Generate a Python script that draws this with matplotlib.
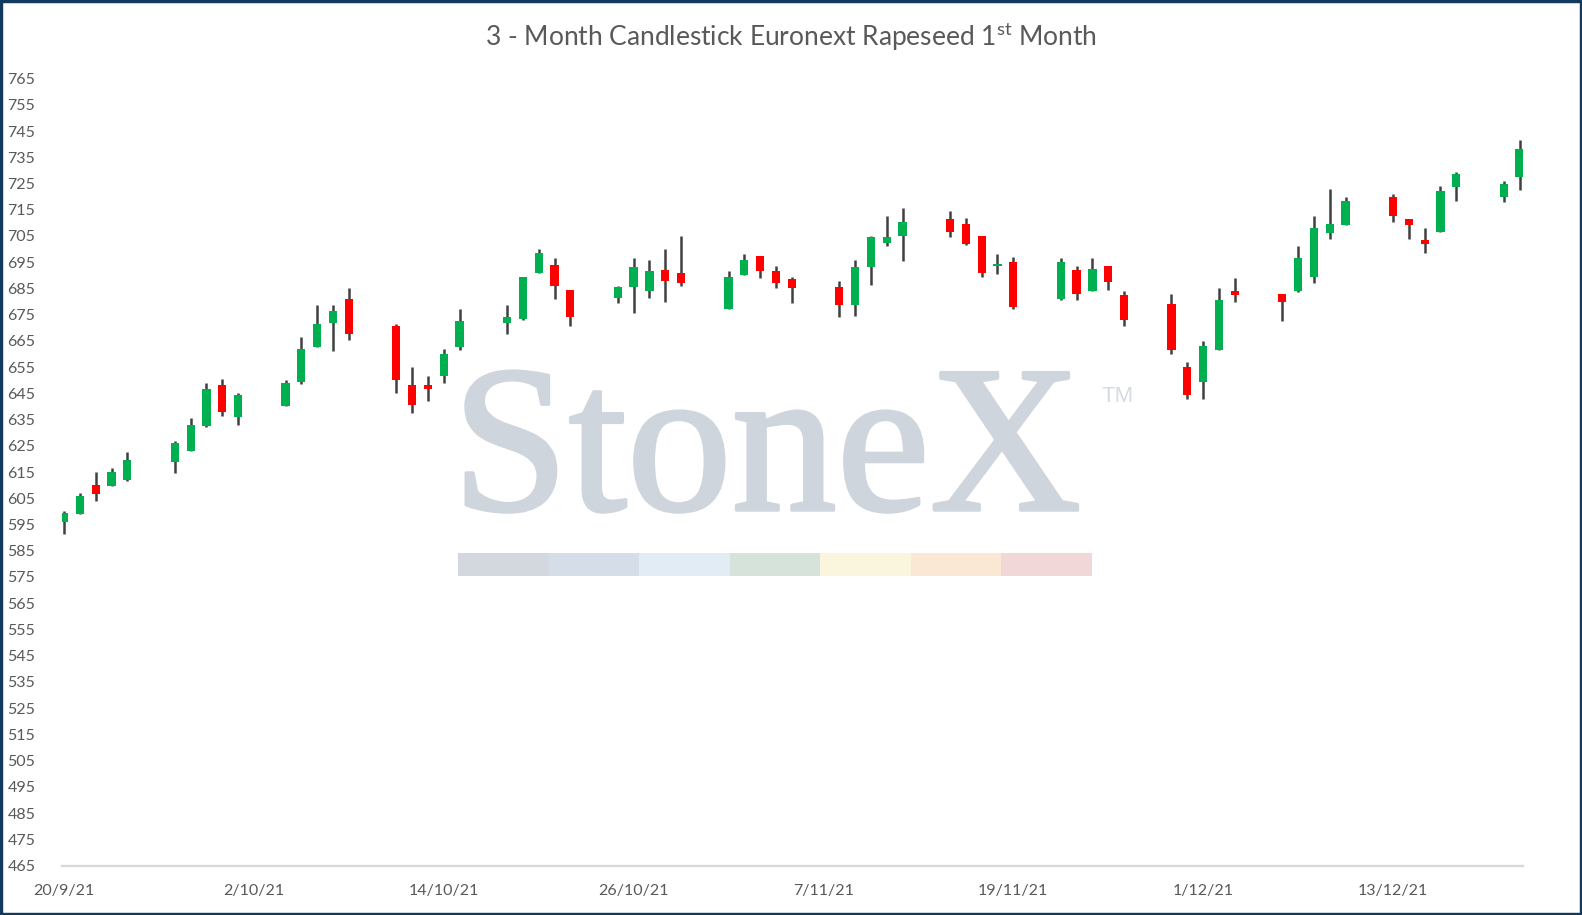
import numpy as np
import pandas as pd
import matplotlib
matplotlib.use("Agg")
import matplotlib.pyplot as plt
import matplotlib.dates as mdates
import matplotlib.patheffects as pe
from matplotlib.patches import Rectangle

plt.rcParams['font.family'] = ['Lato', 'DejaVu Sans']
plt.rcParams['mathtext.fontset'] = 'custom'
plt.rcParams['mathtext.rm'] = 'Lato'

###############################################################################
# daily OHLC, Euronext rapeseed front month, 20/9/21 - 21/12/21 (weekdays)
dates = pd.bdate_range('2021-09-20', '2021-12-21')
opens = [596, 599, 610, 609.5, 612, 619, 623, 632.5, 648, 636,
         640, 649.5, 662.5, 672, 681, 670.5, 648, 648, 651.5, 662.5,
         672, 673.5, 691, 694, 684.5, 681.5, 685.5, 684, 692, 691,
         677, 690, 697.5, 691.5, 688.5, 685.5, 678.5, 693, 702.5, 705,
         711.5, 709.5, 705, 693.5, 695, 681, 692, 684, 693.5, 682.5,
         679, 655, 649.5, 661.5, 684, 683, 684, 689.5, 706, 709,
         720, 711.5, 703.5, 706.5, 723.5, 720, 727.5]
highs = [600, 607, 615, 616.5, 622.5, 627, 635.5, 649, 650.5, 645,
         650, 666.5, 678.5, 678.5, 685, 671.5, 655, 651.5, 662, 677,
         678.5, 689.5, 700, 696.5, 684.5, 686, 696.5, 696, 700, 705,
         691.5, 698, 697.5, 693.5, 689.5, 688, 696, 705, 712.5, 715.5,
         714.5, 712, 705, 698, 697, 696.5, 693.5, 696.5, 693.5, 684,
         683, 657, 665, 685, 689, 683, 701, 712.5, 723, 720,
         721, 711.5, 708, 724, 729.5, 726, 741.5]
lows = [591.5, 599, 604, 609.5, 611.5, 614.5, 623, 632, 636.5, 633,
        640, 648.5, 662.5, 661, 665.5, 645, 637.5, 642, 649, 661.5,
        667.5, 673, 691, 681, 670.5, 679.5, 675.5, 681.5, 680, 686,
        677, 690, 689, 685, 679.5, 674, 674.5, 686.5, 701, 695.5,
        704.5, 701.5, 689.5, 690.5, 677, 680.5, 680.5, 684, 684.5, 670.5,
        660, 643, 643, 661.5, 680, 672.5, 683.5, 687, 704, 709,
        710.5, 704, 698.5, 706.5, 718.5, 718, 722.5]
closes = [599.5, 606, 606.5, 615, 619.5, 626, 633, 646.5, 638, 644.5,
          649, 662, 671.5, 676.5, 667.5, 650, 640.5, 646.5, 660, 672.5,
          674, 689.5, 698.5, 686, 674, 685.5, 693, 691.5, 688, 687,
          689.5, 696, 691.5, 687, 685, 678.5, 693, 704.5, 704.5, 710.5,
          706.5, 702, 691, 694.5, 678, 695, 683, 692.5, 687.5, 673,
          661.5, 644.5, 663, 680.5, 682.5, 680, 696.5, 708, 709.5, 718.5,
          712.5, 709, 702, 722, 728.5, 725, 738]

tick_dates = ['2021-09-20', '2021-10-02', '2021-10-14', '2021-10-26',
              '2021-11-07', '2021-11-19', '2021-12-01', '2021-12-13']
tick_labels = ['20/9/21', '2/10/21', '14/10/21', '26/10/21',
               '7/11/21', '19/11/21', '1/12/21', '13/12/21']
y_ticks = np.arange(465, 766, 10)
###############################################################################

W, H = 1582, 915
fig = plt.figure(figsize=(W / 100, H / 100), dpi=100)
fig.patch.set_facecolor('white')

ax = fig.add_axes([61.7 / W, 1 - 865.5 / H, (1522.7 - 61.7) / W, (865.5 - 78.6) / H])
ax.patch.set_alpha(0)

x = mdates.date2num(dates)
o = np.array(opens)
c = np.array(closes)
cols = np.where(c >= o, '#00B050', '#FF0000')

ax.vlines(x, lows, highs, color='#404040', lw=1.8, zorder=2)
ax.bar(x, c - o, bottom=o, width=0.52, color=cols, edgecolor='none', zorder=3)

ax.set_xlim(x[0] - 0.15, x[-1] + 0.2)
ax.set_ylim(465, 765)
ax.set_yticks(y_ticks)
ax.set_yticklabels([str(v) for v in y_ticks])
ax.set_xticks(mdates.date2num(pd.to_datetime(tick_dates)))
ax.set_xticklabels(tick_labels)
ax.tick_params(axis='both', length=0, labelsize=11.5, labelcolor='#595959')
ax.tick_params(axis='y', pad=19)
ax.tick_params(axis='x', pad=13)
for s in ['top', 'right', 'left']:
    ax.spines[s].set_visible(False)
ax.spines['bottom'].set_color('#D9D9D9')
ax.spines['bottom'].set_linewidth(1.7)

fig.text(0.5, 1 - 36.5 / H,
         r'3 - Month Candlestick Euronext Rapeseed 1$^{\mathrm{st}}$ Month',
         ha='center', va='center', fontsize=19, color='#595959')

# StoneX watermark
wm = '#CFD5DD'
fig.text(452 / W, 1 - 510 / H, 'StoneX', family='Liberation Serif',
         fontsize=151, color=wm, ha='left', va='baseline', zorder=-2,
         path_effects=[pe.withStroke(linewidth=2.5, foreground=wm)])
fig.text(1102 / W, 1 - 402 / H, 'TM', family='Liberation Sans',
         fontsize=16, color='#D6DBE2', ha='left', va='baseline', zorder=-2)
bar_cols = ['#D3D8DF', '#D5DEE8', '#E2ECF5', '#D6E3DB', '#FAF6DE', '#FAE8D4', '#F2D7D9']
seg = (1092 - 458) / 7
for i, bc in enumerate(bar_cols):
    fig.patches.append(Rectangle(((458 + i * seg) / W, 1 - 576 / H), seg / W, 23 / H,
                                 transform=fig.transFigure, facecolor=bc,
                                 edgecolor='none', zorder=-2))

fig.patches.append(Rectangle((0, 0), 1, 1, transform=fig.transFigure, fill=False,
                             edgecolor='#123A5C', lw=3.9, zorder=10))

fig.savefig('out.png', dpi=100)
